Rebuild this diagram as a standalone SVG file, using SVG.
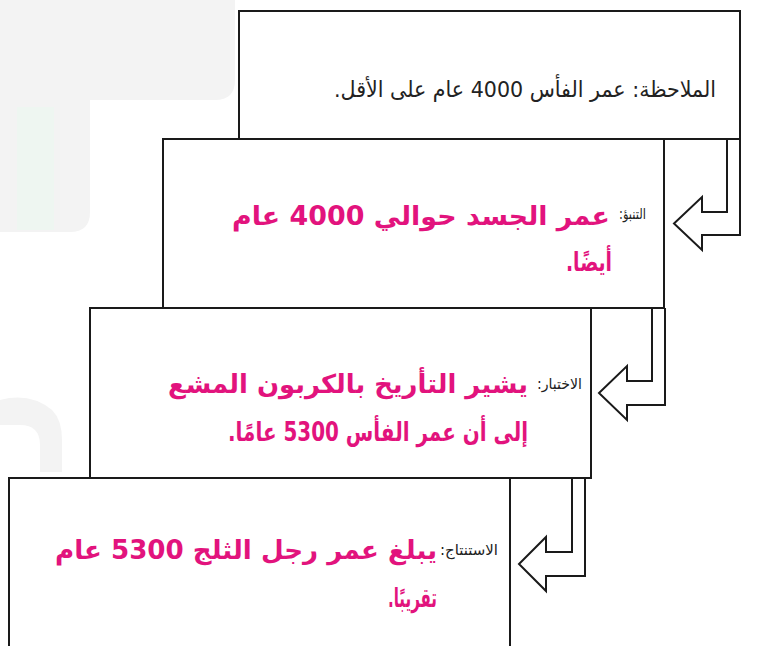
<svg xmlns="http://www.w3.org/2000/svg" width="758" height="646" viewBox="0 0 758 646">
<style>
.box{fill:#ffffff;stroke:#1a1a1a;stroke-width:2}
.arr{fill:none;stroke:#1a1a1a;stroke-width:2;stroke-linejoin:miter}
.t{font-family:"DejaVu Sans",sans-serif;direction:rtl;text-anchor:start}
.lbl{font-size:15px;fill:#222222}
.obs{font-size:22px;fill:#222222}
.pink{font-size:26px;font-weight:bold;fill:#e2137d}
.wm{fill:#f3f3f3}
</style>
<g id="watermark">
<path class="wm" d="M0,0 H235 V80 Q235,100 215,100 H90 V212 Q90,232 70,232 H0 Z"/>
<rect x="17" y="107" width="37" height="123" fill="#eef6f1"/>
<path class="wm" d="M0,400 Q30,392 52,410 Q62,420 62,440 V472 H40 V445 Q40,425 20,425 H0 Z"/>
</g>
<g id="box1">
<rect class="box" x="239" y="11" width="501" height="128"/>
<text class="t obs" x="716" y="97" textLength="382" lengthAdjust="spacingAndGlyphs">الملاحظة: عمر الفأس 4000 عام على الأقل.</text>
</g>
<g id="box2">
<rect class="box" x="163" y="139" width="501" height="169"/>
<text class="t lbl" x="646" y="219" textLength="27" lengthAdjust="spacingAndGlyphs">التنبؤ:</text>
<text class="t pink" x="610" y="225" textLength="378" lengthAdjust="spacingAndGlyphs">عمر الجسد حوالي 4000 عام</text>
<text class="t pink" x="612" y="271" textLength="46" lengthAdjust="spacingAndGlyphs">أيضًا.</text>
</g>
<g id="box3">
<rect class="box" x="90" y="308" width="501" height="170"/>
<text class="t lbl" x="582" y="389" textLength="45" lengthAdjust="spacingAndGlyphs">الاختبار:</text>
<text class="t pink" x="528" y="393" textLength="360" lengthAdjust="spacingAndGlyphs">يشير التأريخ بالكربون المشع</text>
<text class="t pink" x="528" y="441" textLength="300" lengthAdjust="spacingAndGlyphs">إلى أن عمر الفأس 5300 عامًا.</text>
</g>
<g id="box4">
<rect class="box" x="9" y="478" width="501" height="200"/>
<text class="t lbl" x="498" y="555" textLength="58" lengthAdjust="spacingAndGlyphs">الاستنتاج:</text>
<text class="t pink" x="437" y="559" textLength="382" lengthAdjust="spacingAndGlyphs">يبلغ عمر رجل الثلج 5300 عام</text>
<text class="t pink" x="437" y="607" textLength="49" lengthAdjust="spacingAndGlyphs">تقريبًا.</text>
</g>
<g id="connectors">
<path class="arr" d="M727,139 V212 H702 V197 L674,223.5 L702,250 V235 H740 V139"/>
<path class="arr" d="M652,308 V381 H627 V366 L599,393 L627,420 V405 H665 V308"/>
<path class="arr" d="M572,478 V552 H546 V537 L519,564 L546,591 V576 H585 V478"/>
</g>
</svg>
